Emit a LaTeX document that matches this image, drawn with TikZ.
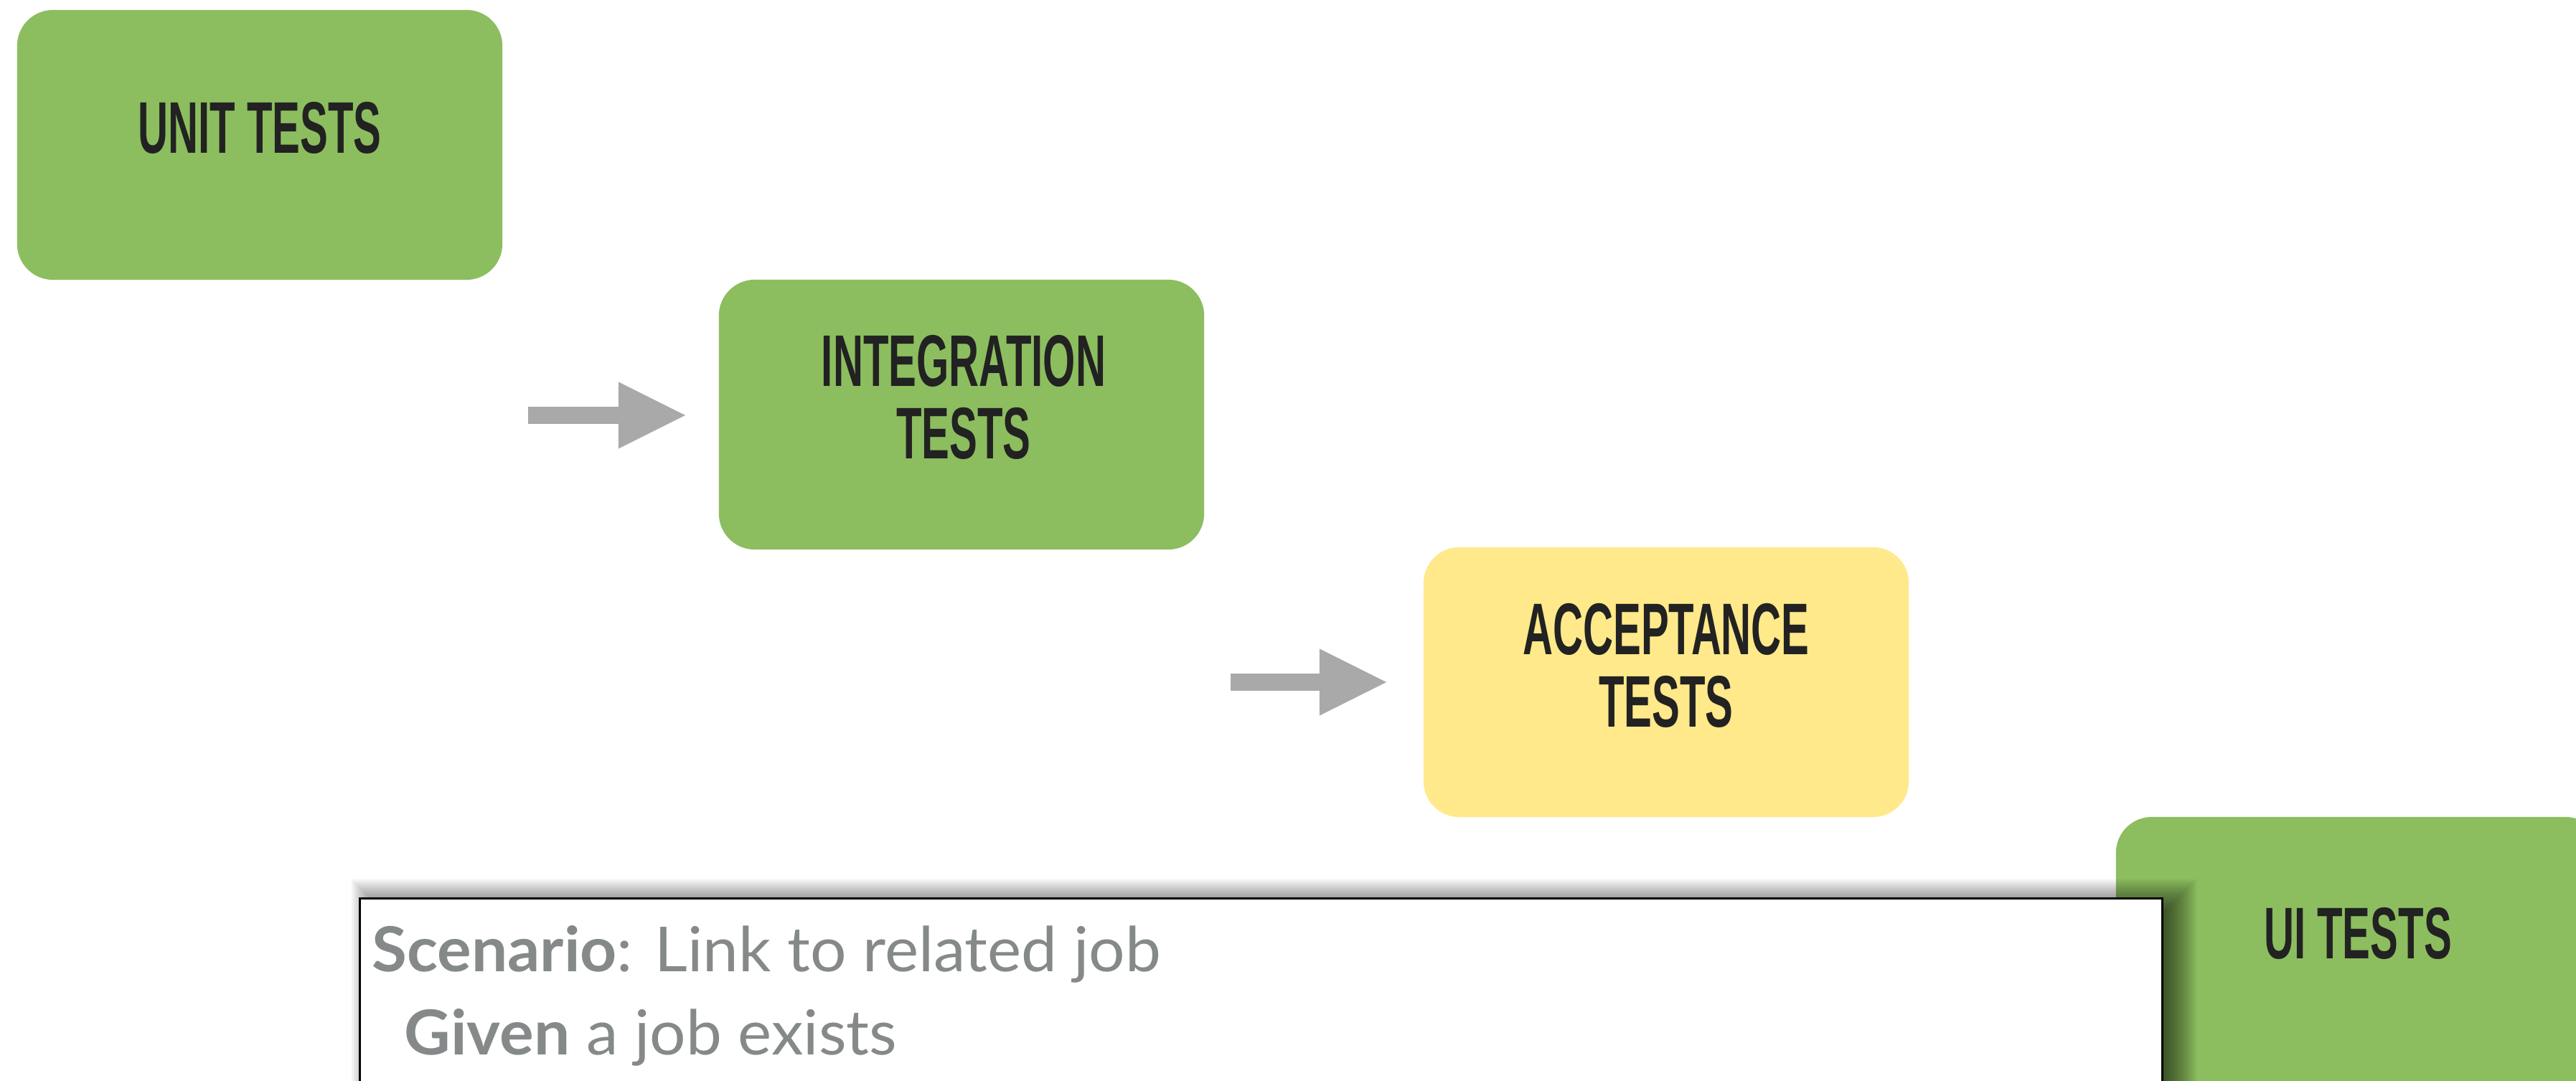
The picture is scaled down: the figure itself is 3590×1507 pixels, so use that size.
\documentclass[tikz,border=0pt]{standalone}
\usepackage{fontspec}
\setmainfont{Lato}
\newfontfamily\scenfont[FakeStretch=1.03]{Lato}
\newfontfamily\dinfont[FakeStretch=0.57]{Liberation Sans}
\usetikzlibrary{arrows.meta}
\definecolor{tgreen}{RGB}{140,190,95}
\definecolor{tyellow}{RGB}{255,233,138}
\definecolor{tdark}{RGB}{34,34,34}
\definecolor{tarrow}{RGB}{168,169,168}
\definecolor{tgray}{RGB}{133,137,137}
\begin{document}
\begin{tikzpicture}[x=0.01cm,y=-0.01cm,
  tbox/.style={rounded corners=0.5cm, minimum width=6.76cm, minimum height=3.76cm, inner sep=0pt, draw=none},
  lbl/.style={font=\dinfont\bfseries\fontsize{29}{28.74}\selectfont, text=tdark, align=center, inner sep=0pt},
  flow/.style={draw=tarrow, line width=0.24cm, -{Triangle[length=0.93cm, width=0.93cm, line width=0pt]}},
  stext/.style={font=\scenfont\fontsize{24.6}{29}\selectfont, text=tgray, inner sep=0pt, anchor=base west}]
\useasboundingbox (0,0) rectangle (3590,1507);
\clip (0,0) rectangle (3590,1507);
\fill[white] (0,0) rectangle (3590,1507);
% boxes
\node[tbox, fill=tgreen] (unit) at (362,202) {};
\node[lbl] (unitL) at (362,178.5) {UNIT TESTS};
\node[tbox, fill=tgreen] (integ) at (1340,578) {};
\node[lbl] (integL) at (1343,554) {INTEGRATION\\TESTS};
\node[tbox, fill=tyellow] (accept) at (2322,951) {};
\node[lbl] (acceptL) at (2322,927.5) {ACCEPTANCE\\TESTS};
\node[tbox, fill=tgreen] (ui) at (3287,1327) {};
\node[lbl] (uiL) at (3286,1301) {UI TESTS};
% arrows
\coordinate (a1s) at (736,579);
\coordinate (a1e) at (955,579);
\coordinate (a2s) at (1715,951);
\coordinate (a2e) at (1932,951);
\draw[flow] (a1s) -- (a1e);
\draw[flow] (a2s) -- (a2e);
% shadow of the scenario card
\foreach \i in {0,...,20} {
  \pgfmathsetmacro{\e}{-30+3*\i}
  \fill[black, fill opacity=0.049] (520-\e,1256-\e) rectangle (3031+\e,1700);
}
% scenario card
\node[draw=black, line width=0.025cm, fill=white, minimum width=25.11cm, minimum height=4cm, inner sep=0pt, anchor=north west] (scen) at (500,1251) {};
\node[stext] (line1) at (518,1354) {\bfseries Scenario\mdseries: Link to related job};
\node[stext] (line2) at (563,1470) {\bfseries Given\mdseries{} a job exists};
\end{tikzpicture}
\end{document}
